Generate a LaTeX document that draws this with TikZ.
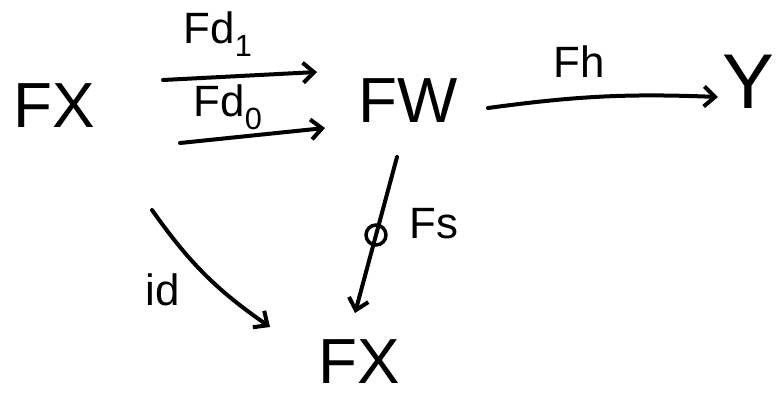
\documentclass[tikz,border=0pt]{standalone}
\usepackage{fontspec}
\setmainfont{Liberation Sans}
\usetikzlibrary{arrows.meta,calc}
\begin{document}
\begin{tikzpicture}[x=1bp,y=-1bp,
  obj/.style={inner sep=0pt,font=\fontsize{64}{70}\selectfont},
  lbl/.style={inner sep=0pt,font=\fontsize{44}{50}\selectfont},
  arr/.style={line width=4bp,line cap=round,
    -{Straight Barb[length=11bp,width=20bp,line width=4bp]}}]
\useasboundingbox (0,0) rectangle (782,399);
\fill[white] (0,0) rectangle (782,399);

% objects
\node[obj] (fx1) at (54,106) {FX};
\node[obj] (fw)  at (408,101) {FW};
\node[obj,font=\fontsize{78}{84}\selectfont] (y) at (748,82) {Y};
\node[obj] (fx2) at (359,362) {FX};

% parallel pair FX -> FW
\draw[arr] ($(fx1)+(109,-26)$) -- ($(fw)+(-91,-29)$);
\draw[arr] ($(fx1)+(126,37)$) -- ($(fw)+(-83,27)$);
\node[lbl] (lfd1) at (218,34) {Fd\textsubscript{1}};
\node[lbl] (lfd0) at (228,107) {Fd\textsubscript{0}};

% FW -> Y
\draw[arr] ($(fw)+(80,7)$) to[bend left=5] ($(y)+(-30,15)$);
\node[lbl] (lfh) at (579,62) {Fh};

% FW -> FX, marked with a small circle
\draw[arr] ($(fw)+(-11,56)$) -- coordinate[midway] (smark) ($(fx2)+(-4,-49)$);
\draw[line width=3.5bp] (smark) circle[radius=10bp];
\node[lbl] (lfs) at (434,224) {Fs};

% identity FX -> FX
\draw[arr] ($(fx1)+(98,104)$) to[bend right=10] ($(fx2)+(-89,-35)$);
\node[lbl] (lid) at (163,290) {id};
\end{tikzpicture}
\end{document}
